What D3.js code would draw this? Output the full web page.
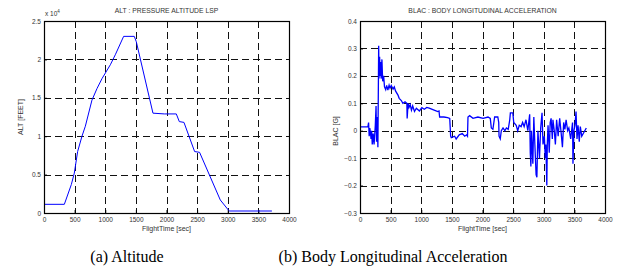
<!DOCTYPE html>
<html>
<head>
<meta charset="utf-8">
<script src="https://cdn.jsdelivr.net/npm/d3@7"></script>
<style>
  body { margin: 0; background: #fff; }
  text { font-family: "Liberation Sans", Arial, sans-serif; }
</style>
</head>
<body>
<svg id="chart" width="642" height="277"></svg>
<script>
// altitude trace, time [sec] and feet
var altTime = [0, 332, 446, 495, 549, 620, 675, 783, 865, 947, 1083, 1164, 1300, 1474, 1507, 1779, 1964, 2160, 2209, 2285, 2459, 2540, 2878, 3014, 3030, 3721];
var altFeet = [1130, 1130, 3700, 5200, 8000, 10000, 11300, 14700, 16200, 17500, 19300, 20600, 23000, 23000, 22300, 13000, 12900, 12900, 11900, 11800, 8000, 7900, 1700, 350, 260, 260];

// body longitudinal acceleration, time [sec] and G
var blacTime = [0, 130, 140, 150, 160, 170, 180, 190, 200, 215, 230, 250, 262, 270, 282, 292, 305, 310, 320, 329, 337, 345, 358, 370, 386, 400, 420, 435, 455, 475, 490, 510, 540, 560, 580, 620, 640, 675, 700, 735, 765, 770, 785, 800, 820, 840, 860, 890, 920, 970, 1010, 1050, 1090, 1130, 1210, 1270, 1290, 1300, 1370, 1430, 1465, 1480, 1490, 1545, 1570, 1620, 1670, 1710, 1740, 1755, 1763, 1790, 1845, 1925, 2010, 2090, 2127, 2144, 2170, 2198, 2250, 2265, 2270, 2290, 2307, 2335, 2365, 2390, 2420, 2445, 2455, 2495, 2510, 2550, 2575, 2600, 2630, 2655, 2680, 2710, 2740, 2770, 2780, 2790, 2800, 2822, 2838, 2855, 2875, 2888, 2905, 2930, 2950, 2972, 2988, 3010, 3025, 3035, 3050, 3058, 3070, 3090, 3105, 3120, 3140, 3150, 3172, 3190, 3210, 3235, 3260, 3285, 3305, 3325, 3345, 3365, 3390, 3410, 3440, 3470, 3477, 3493, 3510, 3527, 3543, 3560, 3580, 3597, 3620, 3695];
var blacG = [0.014, 0.015, 0.03, -0.02, 0.01, -0.005, -0.03, 0.0, -0.05, -0.01, -0.05, 0.02, 0.09, -0.04, 0.05, -0.06, 0.31, 0.19, 0.27, 0.2, 0.25, 0.19, 0.26, 0.18, 0.2, 0.16, 0.15, 0.165, 0.148, 0.166, 0.155, 0.165, 0.152, 0.16, 0.145, 0.13, 0.118, 0.11, 0.1, 0.105, 0.1, 0.045, 0.1, 0.085, 0.095, 0.075, 0.09, 0.07, 0.082, 0.072, 0.084, 0.078, 0.085, 0.082, 0.075, 0.07, 0.072, 0.05, 0.05, 0.048, 0.045, -0.02, -0.025, -0.02, -0.03, -0.015, -0.01, -0.02, -0.015, -0.02, 0.05, 0.055, 0.045, 0.05, 0.045, 0.05, 0.045, 0.01, 0.005, 0.05, 0.05, 0.03, -0.02, -0.03, 0.0, 0.01, 0.0, 0.01, 0.005, 0.04, 0.065, 0.065, 0.03, 0.02, 0.0, 0.02, 0.015, 0.03, 0.015, 0.04, 0.0, 0.06, -0.08, -0.13, 0.0, -0.12, 0.05, -0.05, -0.16, -0.17, 0.0, -0.1, 0.01, 0.065, -0.05, -0.02, -0.1, -0.05, -0.2, -0.05, 0.02, -0.08, 0.03, 0.045, -0.03, 0.04, 0.0, -0.05, 0.04, -0.02, 0.045, -0.01, -0.06, 0.03, 0.005, 0.04, 0.0, 0.01, -0.03, 0.03, -0.12, 0.0, 0.02, 0.07, -0.03, 0.02, -0.04, 0.015, -0.02, 0.01, 0.0, 0.0];

var timeTicks = [0, 500, 1000, 1500, 2000, 2500, 3000, 3500, 4000];
var altTicks = [0, 5000, 10000, 15000, 20000, 25000];
var blacTicks = [-0.3, -0.2, -0.1, 0, 0.1, 0.2, 0.3, 0.4];

var svg = d3.select("#chart");

function drawPanel(opt) {
  var w = opt.right - opt.left, h = opt.bottom - opt.top;
  var g = svg.append("g").attr("transform", "translate(" + opt.left + "," + opt.top + ")");

  var x = d3.scaleLinear().domain([0, 4000]).range([0, w]);
  var y = d3.scaleLinear().domain(opt.yDomain).range([h, 0]);

  // grid
  g.append("g").selectAll("line").data(timeTicks.slice(1, -1)).enter().append("line")
    .attr("x1", function(d) { return Math.round(x(d)) + 0.5; })
    .attr("x2", function(d) { return Math.round(x(d)) + 0.5; })
    .attr("y1", 0).attr("y2", h)
    .attr("stroke", "#111").attr("stroke-dasharray", "7,4");
  g.append("g").selectAll("line").data(opt.yTicks.slice(1, -1)).enter().append("line")
    .attr("y1", function(d) { return Math.round(y(d)) + 0.5; })
    .attr("y2", function(d) { return Math.round(y(d)) + 0.5; })
    .attr("x1", 0).attr("x2", w)
    .attr("stroke", "#111").attr("stroke-dasharray", "7,4");

  // axes
  var xa = g.append("g").attr("transform", "translate(0," + h + ")")
    .call(d3.axisBottom(x).tickValues(timeTicks).tickSize(-3).tickPadding(4).tickFormat(d3.format("d")));
  var ya = g.append("g")
    .call(d3.axisLeft(y).tickValues(opt.yTicks).tickSize(-3).tickPadding(3).tickFormat(opt.fmt));
  [xa, ya].forEach(function(a) {
    a.select(".domain").remove();
    a.selectAll("text").attr("font-size", 6.5).attr("fill", "#333")
      .style("font-family", "Liberation Sans, Arial, sans-serif");
    a.selectAll("line").attr("stroke", "#000");
  });

  // data line
  var line = d3.line()
    .x(function(d, i) { return x(opt.xs[i]); })
    .y(function(d) { return y(d); });
  g.append("path").datum(opt.ys)
    .attr("d", line)
    .attr("fill", "none").attr("stroke", "#0000ff").attr("stroke-width", opt.lw);

  // frame
  g.append("rect").attr("x", 0.5).attr("y", 0.5).attr("width", w).attr("height", h)
    .attr("fill", "none").attr("stroke", "#000").attr("stroke-width", 1.2);

  // title and labels
  g.append("text").attr("x", w / 2).attr("y", -8).attr("text-anchor", "middle")
    .attr("font-size", 6.8).attr("fill", "#333").text(opt.title);
  g.append("text").attr("x", w / 2).attr("y", h + 18).attr("text-anchor", "middle")
    .attr("font-size", 7).attr("fill", "#333").text("FlightTime [sec]");
  g.append("text").attr("transform", "translate(" + opt.ylabX + "," + opt.ylabY + ") rotate(-90)")
    .attr("text-anchor", "middle").attr("font-size", 7).attr("fill", "#333").text(opt.ylabel);
  return g;
}

var gA = drawPanel({
  left: 44, right: 289, top: 21, bottom: 213, lw: 1,
  xs: altTime, ys: altFeet, yDomain: [0, 25000], yTicks: altTicks,
  fmt: function(d) { return d3.format("")(d / 10000); },
  title: "ALT : PRESSURE ALTITUDE LSP", ylabel: "ALT [FEET]", ylabX: -21, ylabY: 96
});
var mult = gA.append("text").attr("x", 1).attr("y", -5).attr("font-size", 6.5).attr("fill", "#333");
mult.append("tspan").text("x 10");
mult.append("tspan").attr("dy", -3).attr("font-size", 4.5).text("4");

drawPanel({
  left: 360, right: 605, top: 21, bottom: 213, lw: 1.3,
  xs: blacTime, ys: blacG, yDomain: [-0.3, 0.4], yTicks: blacTicks,
  fmt: function(d) { return d3.format("")(+d.toFixed(1)); },
  title: "BLAC : BODY LONGITUDINAL ACCELERATION", ylabel: "BLAC [G]", ylabX: -22, ylabY: 110
});

// captions
svg.append("text").attr("x", 127).attr("y", 262).attr("text-anchor", "middle")
  .style("font-family", "Liberation Serif, Times New Roman, serif").attr("font-size", 16)
  .text("(a) Altitude");
svg.append("text").attr("x", 393).attr("y", 262).attr("text-anchor", "middle")
  .style("font-family", "Liberation Serif, Times New Roman, serif").attr("font-size", 16)
  .text("(b) Body Longitudinal Acceleration");
</script>
</body>
</html>
